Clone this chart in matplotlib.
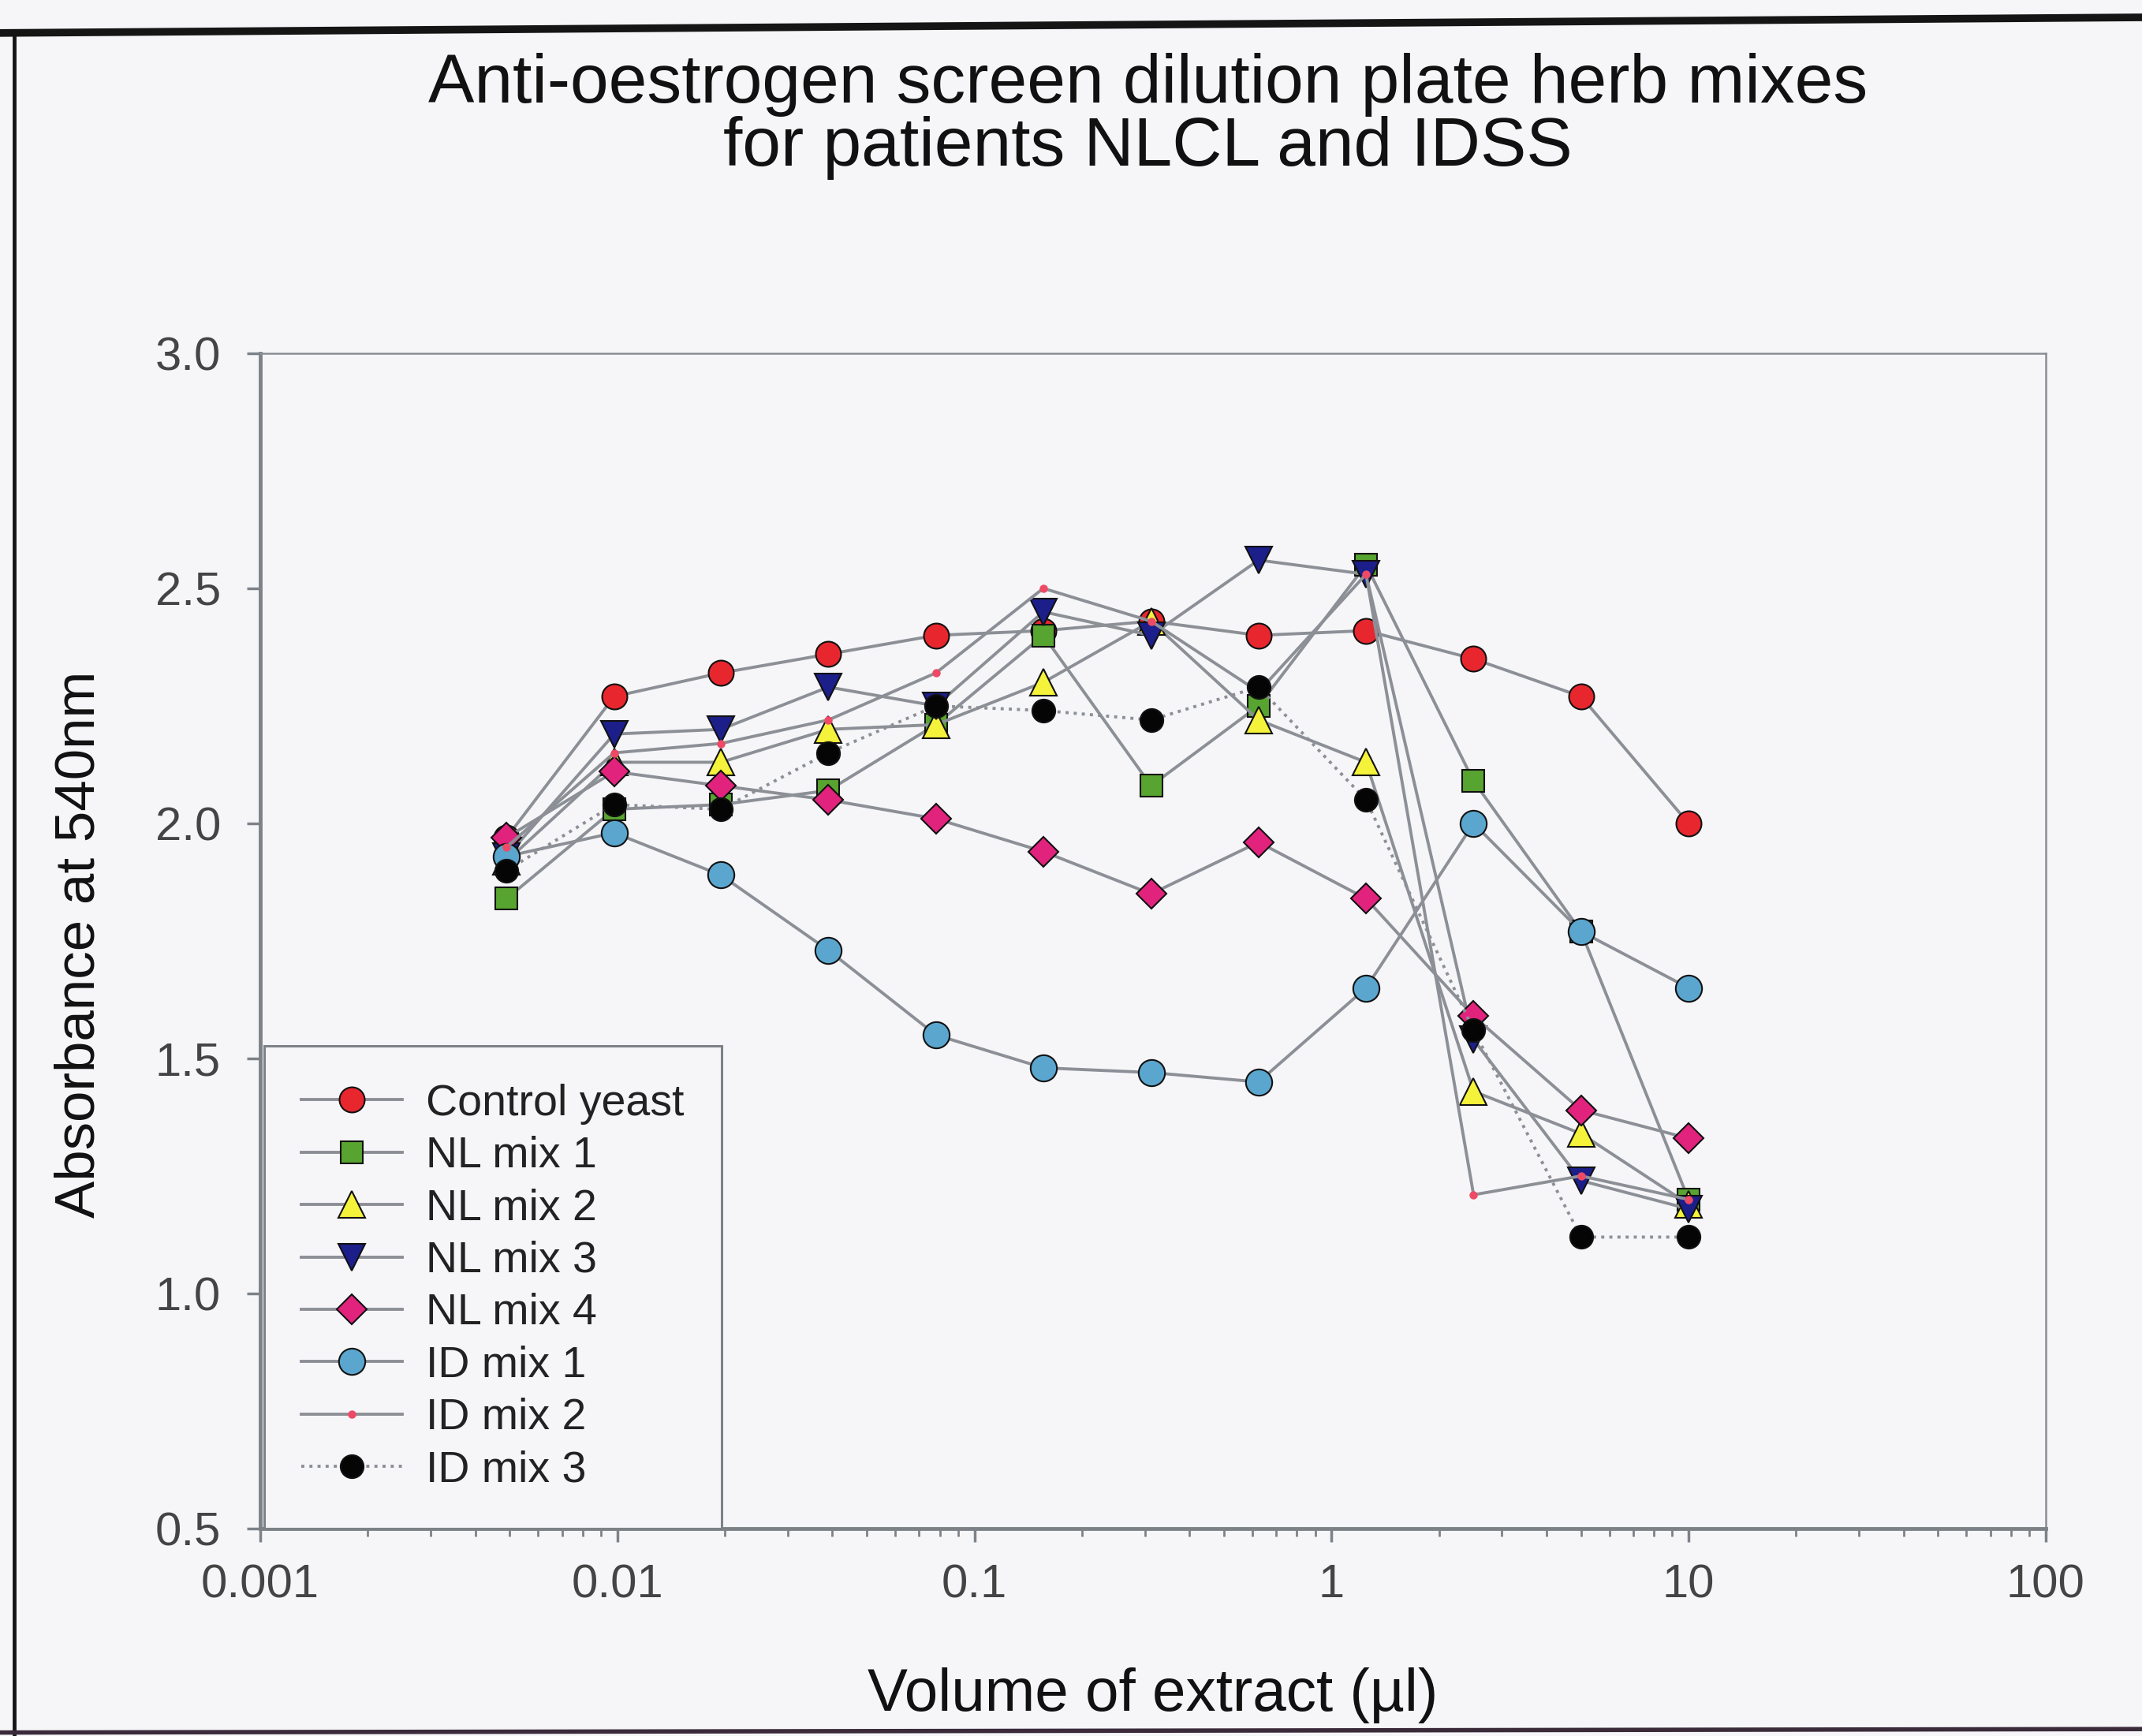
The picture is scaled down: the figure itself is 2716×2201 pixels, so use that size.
import matplotlib
matplotlib.use("Agg")
import matplotlib.pyplot as plt
from matplotlib.lines import Line2D

plt.rcParams['font.family'] = ['Liberation Sans', 'DejaVu Sans']

# Extract volumes (µl), two-fold dilution series
volume = [0.0049, 0.0098, 0.0195, 0.039, 0.078, 0.156, 0.3125, 0.625, 1.25, 2.5, 5, 10]

control_yeast = [1.97, 2.27, 2.32, 2.36, 2.40, 2.41, 2.43, 2.40, 2.41, 2.35, 2.27, 2.00]
nl_mix_1 = [1.84, 2.03, 2.04, 2.07, 2.21, 2.40, 2.08, 2.25, 2.55, 2.09, 1.77, 1.20]
nl_mix_2 = [1.92, 2.13, 2.13, 2.20, 2.21, 2.30, 2.43, 2.22, 2.13, 1.43, 1.34, 1.19]
nl_mix_3 = [1.93, 2.19, 2.20, 2.29, 2.25, 2.45, 2.40, 2.56, 2.53, 1.54, 1.24, 1.18]
nl_mix_4 = [1.97, 2.11, 2.08, 2.05, 2.01, 1.94, 1.85, 1.96, 1.84, 1.59, 1.39, 1.33]
id_mix_1 = [1.93, 1.98, 1.89, 1.73, 1.55, 1.48, 1.47, 1.45, 1.65, 2.00, 1.77, 1.65]
id_mix_2 = [1.95, 2.15, 2.17, 2.22, 2.32, 2.50, 2.43, 2.28, 2.53, 1.21, 1.25, 1.20]
id_mix_3 = [1.90, 2.04, 2.03, 2.15, 2.25, 2.24, 2.22, 2.29, 2.05, 1.56, 1.12, 1.12]

labels = ["Control yeast", "NL mix 1", "NL mix 2", "NL mix 3", "NL mix 4",
          "ID mix 1", "ID mix 2", "ID mix 3"]

x_ticks = [0.001, 0.01, 0.1, 1, 10, 100]
x_tick_labels = ["0.001", "0.01", "0.1", "1", "10", "100"]
y_ticks = [0.5, 1.0, 1.5, 2.0, 2.5, 3.0]

bg = '#f6f6f9'
line_grey = '#8c9096'

fig = plt.figure(figsize=(27.16, 22.01), dpi=100, facecolor=bg)
ax = fig.add_axes([0.1215, 0.1195, 0.8335, 0.677], facecolor=bg)

series = [
    (control_yeast, dict(marker='o', ms=23, mfc='#e8262e', ls='-')),
    (nl_mix_1, dict(marker='s', ms=20, mfc='#58a430', ls='-')),
    (nl_mix_2, dict(marker='^', ms=24, mfc='#f4f23a', ls='-')),
    (nl_mix_3, dict(marker='v', ms=24, mfc='#1c1f8a', ls='-')),
    (nl_mix_4, dict(marker='D', ms=19, mfc='#e2237e', ls='-')),
    (id_mix_1, dict(marker='o', ms=24, mfc='#5aa6cf', ls='-')),
    (id_mix_2, dict(marker='o', ms=6, mfc='#ee4a66', mec='#ee4a66', ls='-')),
    (id_mix_3, dict(marker='o', ms=21, mfc='#050505', ls=':')),
]

for (vals, style), lab in zip(series, labels):
    kw = dict(color=line_grey, lw=2.8, mec='#111111', mew=1.5)
    kw.update(style)
    ax.plot(volume, vals, label=lab, **kw)

ax.set_xscale('log')
ax.set_xlim(0.001, 100)
ax.set_ylim(0.5, 3.0)
ax.set_xticks(x_ticks)
ax.set_xticklabels(x_tick_labels)
ax.set_yticks(y_ticks)
ax.set_yticklabels([f"{v:.1f}" for v in y_ticks])

for side in ['left', 'bottom']:
    ax.spines[side].set_color('#7d8288')
    ax.spines[side].set_linewidth(3.5)
for side in ['top', 'right']:
    ax.spines[side].set_color('#8a8e94')
    ax.spines[side].set_linewidth(1.8)

ax.tick_params(axis='both', which='major', direction='out', length=12, width=2.5,
               color='#7d8288', labelsize=43, labelcolor='#444444')
ax.tick_params(axis='x', which='major', pad=20)
ax.tick_params(axis='y', which='major', pad=24)
ax.tick_params(axis='x', which='minor', direction='out', length=7, width=2, color='#7d8288')
ax.tick_params(axis='y', which='minor', left=False)

ax.set_xlabel("Volume of extract (µl)", fontsize=55, color='#111111')
ax.xaxis.set_label_coords(0.5, -0.118)
ax.set_ylabel("Absorbance at 540nm", fontsize=51, color='#111111')
ax.yaxis.label.set_va('center')
ax.yaxis.set_label_coords(-0.101, 0.497)

leg = ax.legend(loc='lower left', bbox_to_anchor=(0.002, 0.0), borderaxespad=0,
                fontsize=40, frameon=True, fancybox=False, framealpha=1,
                handlelength=2.3, handletextpad=0.55, labelspacing=0.26,
                borderpad=0.85, labelcolor='#222222')
leg.get_frame().set_edgecolor('#7d8288')
leg.get_frame().set_linewidth(2.2)
leg.get_frame().set_facecolor(bg)

fig.text(0.536, 0.951, "Anti-oestrogen screen dilution plate herb mixes",
         ha='center', va='center', fontsize=63, color='#111111')
fig.text(0.536, 0.915, "for patients NLCL and IDSS",
         ha='center', va='center', fontsize=63, color='#111111')

# page border lines
fig.add_artist(Line2D([0.0, 1.0], [0.981, 0.990], transform=fig.transFigure,
                      color='#151515', lw=7))
fig.add_artist(Line2D([0.0065, 0.0065], [0.0, 0.981], transform=fig.transFigure,
                      color='#151515', lw=3.5))
fig.add_artist(Line2D([0.0, 1.0], [0.002, 0.004], transform=fig.transFigure,
                      color='#3a2a3a', lw=4))

fig.savefig("out.png", dpi=100, facecolor=bg)
